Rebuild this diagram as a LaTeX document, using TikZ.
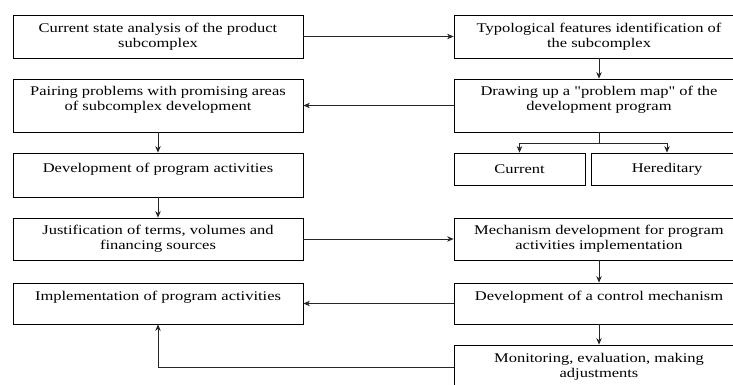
\documentclass[tikz,border=0pt]{standalone}
\usepackage{fontspec}
\setmainfont[FakeStretch=1.24, Ligatures=TeXOff]{Liberation Serif}
\usetikzlibrary{arrows.meta}

\tikzset{
  stage/.style={draw, line width=0.8pt, align=center, inner sep=2pt,
    minimum width=290pt, font=\fontsize{13.3}{15}\selectfont},
  kind/.style={stage, minimum height=32pt},
  link/.style={->, line width=0.7pt, draw=black!85}
}

\begin{document}
\begin{tikzpicture}[x=1pt, y=-1pt, >={Stealth[length=6.5pt, width=5.5pt]}]
            % Khung hình
            \useasboundingbox (0,0) rectangle (733,385);
            \clip (0,0) rectangle (733,385);

            % Cột trái
            \node[stage, minimum height=43pt] (state) at (158,36.5) {Current state analysis of the product\\subcomplex};
            \node[stage, minimum height=53pt] (pair) at (158,105.5) {Pairing problems with promising areas\\of subcomplex development\\~};
            \node[stage, minimum height=44pt] (activ) at (158,175) {Development of program activities\\~};
            \node[stage, minimum height=42pt] (terms) at (158,239) {Justification of terms, volumes and\\financing sources};
            \node[stage, minimum height=41pt] (impl) at (158,303.5) {Implementation of program activities\\~};

            % Cột phải
            \node[stage, minimum height=43pt] (typo) at (599,36.5) {Typological features identification of\\the subcomplex};
            \node[stage, minimum height=53pt] (pmap) at (599,105.5) {Drawing up a "problem map" of the\\development program\\~};
            \node[kind, minimum width=131pt] (cur) at (519.5,169) {Current};
            \node[kind, minimum width=152pt] (her) at (667,169) {Hereditary};
            \node[stage, minimum height=42pt] (mech) at (599,239) {Mechanism development for program\\activities implementation};
            \node[stage, minimum height=41pt] (ctrl) at (599,303.5) {Development of a control mechanism\\~};
            \node[stage, minimum height=55pt] (mon) at (599,372.5) {Monitoring, evaluation, making\\adjustments\\~};

            % Mũi tên
            \draw[link] (state) -- (typo);
            \draw[link] (typo) -- (pmap);
            \draw[link] (pmap) -- (pair);
            \draw[link] (pair) -- (activ);
            \draw[link] (activ) -- (terms);
            \draw[link] (pmap.south) -- ++(0,11) -| (cur.north);
            \draw[link] (pmap.south) -- ++(0,11) -| (her.north);
            \draw[link] (terms) -- (mech);
            \draw[link] (mech) -- (ctrl);
            \draw[link] (ctrl) -- (impl);
            \draw[link] (ctrl) -- (mon);
            \draw[link] ([yshift=5pt]mon.west) -| (impl.south);
        \end{tikzpicture}
\end{document}
